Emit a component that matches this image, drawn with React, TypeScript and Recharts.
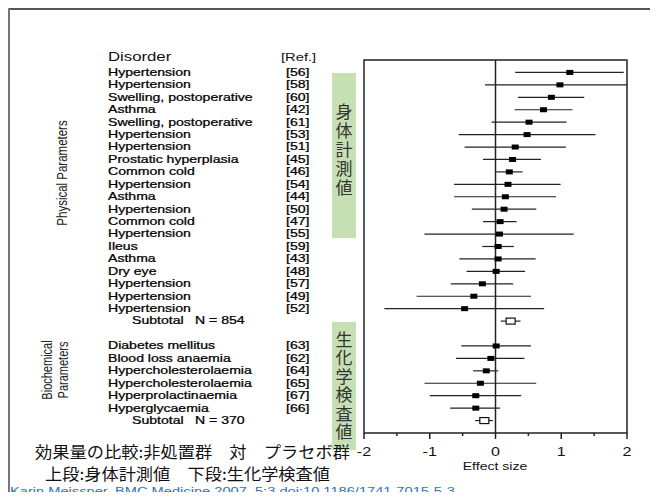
import React from 'react';
import { ScatterChart, Scatter, XAxis, YAxis, ErrorBar, ReferenceLine, ReferenceArea } from 'recharts';

// physical parameters (upper block)
const physDisorders = [
  'Hypertension', 'Hypertension', 'Swelling, postoperative', 'Asthma', 'Swelling, postoperative',
  'Hypertension', 'Hypertension', 'Prostatic hyperplasia', 'Common cold', 'Hypertension',
  'Asthma', 'Hypertension', 'Common cold', 'Hypertension', 'Ileus',
  'Asthma', 'Dry eye', 'Hypertension', 'Hypertension', 'Hypertension',
];
const physRefs = [56, 58, 60, 42, 61, 53, 51, 45, 46, 54, 44, 50, 47, 55, 59, 43, 48, 57, 49, 52];
const physEffect = [1.13, 0.98, 0.85, 0.73, 0.51, 0.48, 0.3, 0.26, 0.21, 0.19, 0.15, 0.13, 0.07, 0.06, 0.04, 0.04, 0.01, -0.2, -0.33, -0.47];
const physLow = [0.3, -0.16, 0.34, 0.29, -0.06, -0.56, -0.47, -0.19, 0.01, -0.63, -0.63, -0.36, -0.19, -1.08, -0.2, -0.55, -0.44, -0.68, -1.2, -1.69];
const physHigh = [1.95, 2.0, 1.35, 1.17, 1.08, 1.52, 1.07, 0.69, 0.41, 0.99, 0.92, 0.62, 0.32, 1.19, 0.28, 0.61, 0.45, 0.27, 0.54, 0.74];
const physN = 854;
const physSubtotal = [0.23, 0.08, 0.38]; // effect, low, high

// biochemical parameters (lower block)
const bioDisorders = [
  'Diabetes mellitus', 'Blood loss anaemia', 'Hypercholesterolaemia',
  'Hypercholesterolaemia', 'Hyperprolactinaemia', 'Hyperglycaemia',
];
const bioRefs = [63, 62, 64, 65, 67, 66];
const bioEffect = [0.01, -0.07, -0.14, -0.23, -0.3, -0.3];
const bioLow = [-0.52, -0.6, -0.34, -1.08, -1.0, -0.69];
const bioHigh = [0.54, 0.44, 0.04, 0.62, 0.39, 0.07];
const bioN = 370;
const bioSubtotal = [-0.17, -0.31, -0.04];

const xTicks = [-2, -1.5, -1, -0.5, 0, 0.5, 1, 1.5, 2];

type Row = { row: number; label: string; ref: string; est: number; err: number[]; subtotal: boolean };

const rows: Row[] = [];
physDisorders.forEach((d, i) => {
  rows.push({ row: i, label: d, ref: `[${physRefs[i]}]`, est: physEffect[i], err: [physEffect[i] - physLow[i], physHigh[i] - physEffect[i]], subtotal: false });
});
rows.push({ row: physDisorders.length, label: 'Subtotal', ref: `N = ${physN}`, est: physSubtotal[0], err: [physSubtotal[0] - physSubtotal[1], physSubtotal[2] - physSubtotal[0]], subtotal: true });
const bioStart = physDisorders.length + 2;
bioDisorders.forEach((d, i) => {
  rows.push({ row: bioStart + i, label: d, ref: `[${bioRefs[i]}]`, est: bioEffect[i], err: [bioEffect[i] - bioLow[i], bioHigh[i] - bioEffect[i]], subtotal: false });
});
rows.push({ row: bioStart + bioDisorders.length, label: 'Subtotal', ref: `N = ${bioN}`, est: bioSubtotal[0], err: [bioSubtotal[0] - bioSubtotal[1], bioSubtotal[2] - bioSubtotal[0]], subtotal: true });

const SX = 1.34; // the figure is stretched sideways
const FONT = 'Liberation Sans, Arial, sans-serif';
const JP = '"Noto Sans CJK JP", sans-serif';
const labelStyle = { fontFamily: FONT, fontSize: 10.5, fill: '#000', stroke: '#000', strokeWidth: 0.25 };

const RowTick = (props: any) => {
  const { y, payload } = props;
  const r = rows.find(d => d.row === payload.value);
  if (!r) return null;
  if (r.subtotal) {
    return (
      <g>
        <text transform={`translate(124,${y}) scale(${SX},1)`} dominantBaseline="central" style={labelStyle}>{r.label}</text>
        <text transform={`translate(187,${y}) scale(${SX},1)`} dominantBaseline="central" style={labelStyle}>{r.ref}</text>
      </g>
    );
  }
  return (
    <g>
      <text transform={`translate(100,${y}) scale(${SX},1)`} dominantBaseline="central" style={labelStyle}>{r.label}</text>
      <text transform={`translate(278,${y}) scale(${SX},1)`} dominantBaseline="central" style={labelStyle}>{r.ref}</text>
    </g>
  );
};

const EffectTick = (props: any) => {
  const { x, y, payload } = props;
  const major = Number.isInteger(payload.value);
  return (
    <g>
      <line x1={x} x2={x} y1={y} y2={y + (major ? 6 : 3)} stroke="#222" strokeWidth={1.5} />
      {major && (
        <text transform={`translate(${x},${y + 19}) scale(${SX},1)`} textAnchor="middle" dominantBaseline="central"
          style={{ fontFamily: FONT, fontSize: 12, fill: '#111' }}>{payload.value}</text>
      )}
    </g>
  );
};

const Mark = (props: any) => {
  const { cx, cy, payload } = props;
  if (payload.subtotal) {
    return <rect x={cx - 4.5} y={cy - 3} width={9} height={6} fill="#fff" stroke="#111" strokeWidth={1.2} />;
  }
  return <rect x={cx - 3.5} y={cy - 2.5} width={7} height={5} fill="#000" />;
};

const greenBox = (top: number, height: number, text: string, spacing: number, shift: number) => (
  <div style={{
    position: 'absolute', left: 324, top, width: 24, height, background: '#c6e0b4',
    display: 'flex', alignItems: 'center', justifyContent: 'center',
  }}>
    <span style={{
      writingMode: 'vertical-rl', fontFamily: JP, fontSize: 17, lineHeight: 1, color: '#333',
      letterSpacing: spacing, position: 'relative', top: shift,
    }}>{text}</span>
  </div>
);

export default function App() {
  return (
    <div style={{ position: 'relative', width: 650, height: 484, background: '#fff' }}>
      <div style={{ position: 'absolute', left: 0, top: 0, width: 650, height: 1.5, background: '#555' }} />
      <div style={{ position: 'absolute', left: 0, top: 0, width: 1.5, height: 492, background: '#777' }} />
      {greenBox(65, 165, '身体計測値', 2, -5)}
      {greenBox(314, 128, '生化学検査値', 1.5, 0)}
      <div style={{ position: 'absolute', left: 0, top: 0 }}>
        <ScatterChart width={650} height={484} margin={{ top: 52, right: 31, bottom: 29, left: 0 }}>
          <XAxis type="number" dataKey="est" domain={[-2, 2]} ticks={xTicks} allowDataOverflow
            axisLine={false} tickLine={false} tickSize={0} tickMargin={0} height={30} tick={<EffectTick />} interval={0} />
          <YAxis type="number" dataKey="row" domain={[-1, 29]} reversed ticks={rows.map(r => r.row)} interval={0}
            axisLine={false} tickLine={false} width={356} tick={<RowTick />} />
          <ReferenceArea x1={-2} x2={2} y1={-1} y2={29} fill="none" fillOpacity={0} stroke="#222" strokeWidth={1.5} />
          <ReferenceLine x={0} stroke="#222" strokeWidth={1.5} />
          <Scatter data={rows} isAnimationActive={false} shape={() => <g />}>
            <ErrorBar dataKey="err" direction="x" width={0} stroke="#222" strokeWidth={1.2} isAnimationActive={false} />
          </Scatter>
          <Scatter data={rows} isAnimationActive={false} shape={<Mark />} />
        </ScatterChart>
      </div>
      <svg width={650} height={492} style={{ position: 'absolute', left: 0, top: 0, pointerEvents: 'none', overflow: 'visible' }}>
        <text transform={`translate(100,49) scale(${SX},1)`} dominantBaseline="central" style={{ fontFamily: FONT, fontSize: 12.5, fill: '#111' }}>Disorder</text>
        <text transform={`translate(273,49) scale(${SX},1)`} dominantBaseline="central" style={{ fontFamily: FONT, fontSize: 11, fill: '#111' }}>[Ref.]</text>
        <text transform={`translate(54,165) scale(${SX},1) rotate(-90)`} textAnchor="middle" dominantBaseline="central" style={{ fontFamily: FONT, fontSize: 11.5, fill: '#222' }}>Physical Parameters</text>
        <text transform={`translate(39,362) scale(${SX},1) rotate(-90)`} textAnchor="middle" dominantBaseline="central" style={{ fontFamily: FONT, fontSize: 11, fill: '#222' }}>Biochemical</text>
        <text transform={`translate(55,362) scale(${SX},1) rotate(-90)`} textAnchor="middle" dominantBaseline="central" style={{ fontFamily: FONT, fontSize: 11, fill: '#222' }}>Parameters</text>
        <text transform={`translate(487,459) scale(${SX},1)`} textAnchor="middle" dominantBaseline="central" style={{ fontFamily: FONT, fontSize: 10.5, fill: '#111' }}>Effect size</text>
        <text x={27} y={449.5} textLength={315} lengthAdjust="spacingAndGlyphs" style={{ fontFamily: JP, fontSize: 15.5, fill: '#111' }}>効果量の比較:非処置群　対　プラセボ群</text>
        <text x={37} y={472} textLength={285} lengthAdjust="spacingAndGlyphs" style={{ fontFamily: JP, fontSize: 15.5, fill: '#111' }}>上段:身体計測値　下段:生化学検査値</text>
        <text x={2} y={487} textLength={445} lengthAdjust="spacingAndGlyphs" style={{ fontFamily: FONT, fontSize: 11.5, fill: '#2e74b5' }}>Karin Meissner, BMC Medicine 2007, 5:3 doi:10.1186/1741-7015-5-3</text>
      </svg>
    </div>
  );
}
